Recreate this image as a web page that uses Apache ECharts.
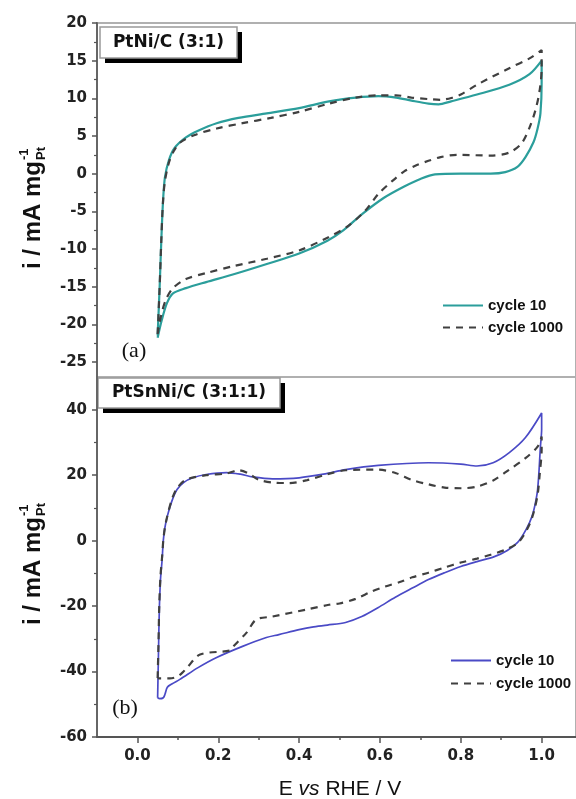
<!DOCTYPE html>
<html>
<head>
<meta charset="utf-8">
<script src="https://cdn.jsdelivr.net/npm/echarts@6/dist/echarts.min.js"></script>
<style>
html, body { margin: 0; padding: 0; background: #fff; }
#chart { width: 576px; height: 799px; }
</style>
</head>
<body>
<div id="chart"></div>
<script>
// tick values
var xTicks = [0.0, 0.2, 0.4, 0.6, 0.8, 1.0];
var xMinor = [0.1, 0.3, 0.5, 0.7, 0.9];
var aTicks = [-25, -20, -15, -10, -5, 0, 5, 10, 15, 20];
var aMinor = [-22.5, -17.5, -12.5, -7.5, -2.5, 2.5, 7.5, 12.5, 17.5];
var bTicks = [-60, -40, -20, 0, 20, 40];
var bMinor = [-50, -30, -10, 10, 30];

// (a) PtNi/C, cycle 10
var a10E = [0.050, 0.055, 0.059, 0.063, 0.068, 0.078, 0.092, 0.12, 0.15, 0.196, 0.25, 0.32, 0.40, 0.474, 0.54, 0.596, 0.64, 0.678, 0.72, 0.745, 0.776, 0.84, 0.92, 0.97, 1.0,
            1.0, 0.997, 0.99, 0.98, 0.96, 0.94, 0.91, 0.874, 0.80, 0.736, 0.70, 0.66, 0.61, 0.555, 0.51, 0.47, 0.40, 0.32, 0.236, 0.17, 0.12, 0.088, 0.073, 0.06, 0.050];
var a10I = [-21.5, -15, -9, -4, -0.5, 1.8, 3.4, 4.8, 5.7, 6.7, 7.4, 8.0, 8.7, 9.6, 10.1, 10.3, 10.1, 9.7, 9.3, 9.2, 9.6, 10.5, 11.8, 13.2, 15.0,
            12, 8, 6, 4.2, 2.2, 0.9, 0.2, 0.0, 0.0, -0.1, -0.7, -1.7, -3.2, -5.4, -7.5, -8.9, -10.6, -12.0, -13.4, -14.4, -15.2, -15.9, -17.2, -19.5, -21.8];
// (a) PtNi/C, cycle 1000
var a1000E = [0.050, 0.055, 0.059, 0.063, 0.068, 0.078, 0.09, 0.105, 0.14, 0.196, 0.26, 0.33, 0.40, 0.474, 0.54, 0.596, 0.64, 0.678, 0.72, 0.75, 0.78, 0.80, 0.84, 0.92, 0.97, 1.0,
              1.0, 0.995, 0.985, 0.97, 0.95, 0.92, 0.874, 0.79, 0.75, 0.72, 0.69, 0.66, 0.63, 0.596, 0.564, 0.52, 0.474, 0.40, 0.32, 0.236, 0.17, 0.12, 0.088, 0.07, 0.058, 0.050];
var a1000I = [-21.3, -15, -9, -4, -1, 1.5, 3, 4.1, 5.1, 6.0, 6.7, 7.4, 8.2, 9.3, 10.1, 10.4, 10.4, 10.1, 9.9, 9.8, 10.1, 10.5, 11.8, 14.0, 15.3, 16.4,
              14, 11, 8.5, 6.1, 4, 2.8, 2.4, 2.5, 2.2, 1.7, 1.1, 0.3, -1, -2.7, -4.9, -7, -8.4, -10.2, -11.3, -12.3, -13.2, -14.0, -15.2, -16.8, -19, -21.3];

// (b) PtSnNi/C, cycle 10
var b10E = [0.050, 0.052, 0.054, 0.057, 0.061, 0.064, 0.068, 0.074, 0.085, 0.098, 0.115, 0.137, 0.17, 0.22, 0.255, 0.285, 0.334, 0.40, 0.46, 0.515, 0.596, 0.72, 0.80, 0.84, 0.88, 0.92, 0.96, 1.0,
            1.0, 0.997, 0.99, 0.98, 0.97, 0.955, 0.94, 0.915, 0.883, 0.84, 0.80, 0.76, 0.72, 0.68, 0.638, 0.595, 0.555, 0.515, 0.47, 0.432, 0.40, 0.35, 0.319, 0.26, 0.196, 0.15, 0.105, 0.085, 0.074, 0.068, 0.064, 0.055, 0.050];
var b10I = [-48, -35, -22, -12, -6, 0, 4, 7.5, 12, 15.6, 17.8, 19.2, 20.2, 20.8, 20.3, 19.5, 18.9, 19.2, 20.3, 21.7, 23.0, 23.8, 23.4, 22.8, 23.8, 26.9, 31.5, 39,
            34, 28.7, 15.6, 9, 5.5, 2, -0.6, -3, -4.9, -6.4, -7.9, -9.8, -11.9, -14.5, -17.3, -20.5, -23.2, -25, -25.8, -26.4, -27.2, -28.7, -29.6, -32.3, -35.7, -38.8, -42.4, -43.8, -44.8, -47, -48, -48.3, -48];
// (b) PtSnNi/C, cycle 1000
var b1000E = [0.050, 0.052, 0.054, 0.057, 0.061, 0.064, 0.068, 0.074, 0.085, 0.098, 0.12, 0.17, 0.22, 0.25, 0.275, 0.30, 0.34, 0.375, 0.42, 0.47, 0.515, 0.596, 0.64, 0.678, 0.72, 0.76, 0.80, 0.84, 0.88, 0.92, 0.96, 0.99, 1.0,
              1.0, 0.995, 0.99, 0.98, 0.97, 0.955, 0.94, 0.91, 0.874, 0.84, 0.80, 0.76, 0.72, 0.68, 0.653, 0.613, 0.58, 0.54, 0.50, 0.474, 0.42, 0.334, 0.294, 0.27, 0.236, 0.228, 0.155, 0.123, 0.11, 0.098, 0.08, 0.056, 0.050];
var b1000I = [-42, -32, -20, -11, -5, 0, 4, 7.5, 12.5, 16, 18.6, 20, 20.5, 21.5, 20.5, 18.6, 17.7, 17.6, 18.5, 20.3, 21.5, 21.7, 20.6, 18.6, 17.2, 16.2, 16.0, 16.5, 18.4, 21.7, 25.2, 28.7, 31.8,
              28, 20, 14, 8.5, 5, 1.5, -0.8, -2.8, -4.3, -5.5, -6.7, -8.2, -9.8, -11.2, -12.5, -14, -15.5, -17.8, -19.2, -19.6, -21, -23.2, -24.1, -28.1, -32.5, -33.6, -34.8, -38.8, -40.5, -41.6, -42.1, -42.1, -42];

var legendText = { a10: 'cycle 10', a1000: 'cycle 1000', b10: 'cycle 10', b1000: 'cycle 1000' };

function zip(xs, ys) {
    return xs.map(function (x, i) { return [x, ys[i]]; });
}

var tickFont = { fontFamily: 'DejaVu Sans', fontWeight: 'bold', fontSize: 15, color: '#222' };

function measure(text, font) {
    var ctx = document.createElement('canvas').getContext('2d');
    ctx.font = font;
    return ctx.measureText(text).width;
}

// rotated y-axis title "i / mA mg(-1, Pt)"
function yTitle(cy) {
    var mainW = measure('i / mA mg', 'bold 24px "Liberation Sans"');
    var supW = measure('Pt', 'bold 13px "Liberation Sans"');
    var total = mainW + supW + 1;
    var x0 = -total / 2;
    var f = { fontFamily: 'Liberation Sans', fontWeight: 'bold', fill: '#111' };
    return {
        type: 'group', x: 33, y: cy, rotation: Math.PI / 2,
        children: [
            { type: 'text', x: x0, y: 0, style: Object.assign({ text: 'i / mA mg', fontSize: 24, align: 'left', verticalAlign: 'middle' }, f) },
            { type: 'text', x: x0 + mainW + 1, y: -9, style: Object.assign({ text: '-1', fontSize: 13, align: 'left', verticalAlign: 'middle' }, f) },
            { type: 'text', x: x0 + mainW + 1, y: 8, style: Object.assign({ text: 'Pt', fontSize: 13, align: 'left', verticalAlign: 'middle' }, f) }
        ]
    };
}

function titleBox(x, y, w, h, text) {
    return {
        type: 'group', z: 100,
        children: [
            { type: 'rect', shape: { x: x + 5, y: y + 5, width: w, height: h }, style: { fill: '#000' } },
            { type: 'rect', shape: { x: x, y: y, width: w, height: h }, style: { fill: '#fff', stroke: '#999', lineWidth: 1.5 } },
            { type: 'text', x: x + w / 2, y: y + h / 2, style: { text: text, fontFamily: 'DejaVu Sans', fontWeight: 'bold', fontSize: 17, fill: '#111', align: 'center', verticalAlign: 'middle' } }
        ]
    };
}

function legendOpt(names, left, top, gap) {
    return {
        data: names, left: left, top: top, orient: 'vertical', itemWidth: 40, itemHeight: 14, itemGap: gap,
        itemStyle: { opacity: 0 },
        formatter: function (n) { return legendText[n]; },
        textStyle: { fontFamily: 'Liberation Sans', fontWeight: 'bold', fontSize: 15, color: '#111' }
    };
}

var chart = echarts.init(document.getElementById('chart'));

var xBase = { type: 'value', min: -0.1, max: 1.085, splitLine: { show: false }, position: 'bottom' };

var option = {
    animation: false,
    backgroundColor: '#fff',
    grid: [
        { left: 97, top: 23, width: 481, height: 354, show: true, borderColor: '#b0b0b0', borderWidth: 2 },
        { left: 97, top: 377, width: 481, height: 360, show: true, borderColor: '#b0b0b0', borderWidth: 2 }
    ],
    xAxis: [
        Object.assign({}, xBase, { gridIndex: 0, axisLine: { show: false, onZero: false }, axisTick: { show: false }, axisLabel: { show: false } }),
        Object.assign({}, xBase, {
            gridIndex: 1,
            axisLine: { onZero: false, lineStyle: { color: '#555', width: 2 } },
            axisTick: { customValues: xTicks, length: 6, lineStyle: { color: '#555', width: 1.5 } },
            axisLabel: Object.assign({ customValues: xTicks, margin: 12, formatter: function (v) { return v.toFixed(1); } }, tickFont)
        }),
        Object.assign({}, xBase, {
            gridIndex: 1,
            axisLine: { show: false, onZero: false },
            axisTick: { customValues: xMinor, length: 3, lineStyle: { color: '#555', width: 1.5 } },
            axisLabel: { show: false }
        })
    ],
    yAxis: [
        {
            type: 'value', gridIndex: 0, min: -27, max: 20, position: 'left', splitLine: { show: false },
            axisLine: { onZero: false, lineStyle: { color: '#666', width: 2 } },
            axisTick: { customValues: aTicks, length: 5, lineStyle: { color: '#555', width: 1.5 } },
            axisLabel: Object.assign({ customValues: aTicks, margin: 10 }, tickFont)
        },
        {
            type: 'value', gridIndex: 0, min: -27, max: 20, position: 'left', splitLine: { show: false },
            axisLine: { show: false, onZero: false },
            axisTick: { customValues: aMinor, length: 3, lineStyle: { color: '#555', width: 1.2 } },
            axisLabel: { show: false }
        },
        {
            type: 'value', gridIndex: 1, min: -60, max: 50, position: 'left', splitLine: { show: false },
            axisLine: { onZero: false, lineStyle: { color: '#666', width: 2 } },
            axisTick: { customValues: bTicks, length: 5, lineStyle: { color: '#555', width: 1.5 } },
            axisLabel: Object.assign({ customValues: bTicks, margin: 10 }, tickFont)
        },
        {
            type: 'value', gridIndex: 1, min: -60, max: 50, position: 'left', splitLine: { show: false },
            axisLine: { show: false, onZero: false },
            axisTick: { customValues: bMinor, length: 3, lineStyle: { color: '#555', width: 1.2 } },
            axisLabel: { show: false }
        }
    ],
    legend: [
        legendOpt(['a10', 'a1000'], 437, 293, 7),
        legendOpt(['b10', 'b1000'], 445, 648, 8)
    ],
    series: [
        { name: 'a10', type: 'line', xAxisIndex: 0, yAxisIndex: 0, data: zip(a10E, a10I), symbol: 'none', smooth: 0.3,
          lineStyle: { color: '#2b9e9b', width: 2.2 }, itemStyle: { color: '#2b9e9b' } },
        { name: 'a1000', type: 'line', xAxisIndex: 0, yAxisIndex: 0, data: zip(a1000E, a1000I), symbol: 'none', smooth: 0.3,
          lineStyle: { color: '#404040', width: 2.2, type: [7, 6] }, itemStyle: { color: '#404040' } },
        { name: 'b10', type: 'line', xAxisIndex: 1, yAxisIndex: 2, data: zip(b10E, b10I), symbol: 'none', smooth: 0.3,
          lineStyle: { color: '#4a4ac6', width: 1.7 }, itemStyle: { color: '#4a4ac6' } },
        { name: 'b1000', type: 'line', xAxisIndex: 1, yAxisIndex: 2, data: zip(b1000E, b1000I), symbol: 'none', smooth: 0.3,
          lineStyle: { color: '#404040', width: 2.2, type: [7, 6] }, itemStyle: { color: '#404040' } }
    ],
    graphic: [
        titleBox(100, 27, 137, 31, 'PtNi/C (3:1)'),
        titleBox(98, 378, 182, 30, 'PtSnNi/C (3:1:1)'),
        { type: 'text', x: 134, y: 351, z: 100, style: { text: '(a)', fontFamily: 'Liberation Serif', fontSize: 22, fill: '#111', align: 'center', verticalAlign: 'middle' } },
        { type: 'text', x: 125, y: 708, z: 100, style: { text: '(b)', fontFamily: 'Liberation Serif', fontSize: 22, fill: '#111', align: 'center', verticalAlign: 'middle' } },
        yTitle(208),
        yTitle(564),
        {
            type: 'text', x: 340, y: 789, z: 100,
            style: {
                text: '{n|E }{i|vs}{n| RHE / V}', align: 'center', verticalAlign: 'middle',
                rich: {
                    n: { fontFamily: 'Liberation Sans', fontSize: 21, fill: '#111' },
                    i: { fontFamily: 'Liberation Sans', fontStyle: 'italic', fontSize: 21, fill: '#111' }
                }
            }
        }
    ]
};

chart.setOption(option);
</script>
</body>
</html>
